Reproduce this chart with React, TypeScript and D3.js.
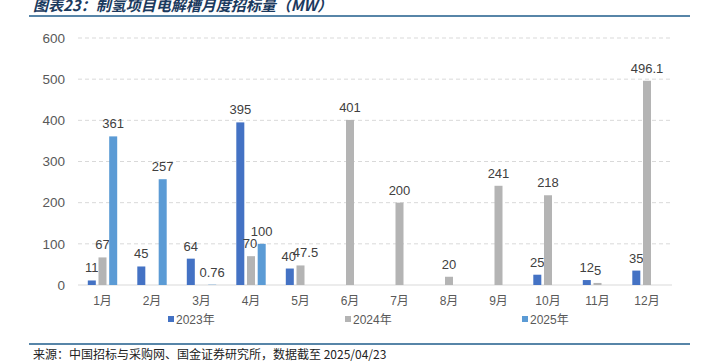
import React from "react";
import * as d3 from "d3";

const categories = ["1月", "2月", "3月", "4月", "5月", "6月", "7月", "8月", "9月", "10月", "11月", "12月"];
const seriesNames = ["2023年", "2024年", "2025年"];
const values2023: (number | null)[] = [11, 45, 64, 395, 40, null, null, null, null, 25, 12, 35];
const values2024: (number | null)[] = [67, null, null, 70, 47.5, 401, 200, 20, 241, 218, 5, 496.1];
const values2025: (number | null)[] = [361, 257, 0.76, 100, null, null, null, null, null, null, null, null];
const yTicks = [0, 100, 200, 300, 400, 500, 600];
const colors = ["#4472C4", "#B4B4B4", "#5B9BD5"];

const W = 709;
const H = 362;

// small label nudges (series index, category index) -> [dx, dy]
const labelNudge: Record<string, [number, number]> = {
  "1-4": [5, 0],
  "0-4": [-1, 0],
  "1-3": [-1, 0],
};

export default function App() {
  const allSeries = [values2023, values2024, values2025];
  const x0 = d3.scaleBand<string>().domain(categories).range([77.75, 671.75]).padding(0);
  const groupW = 29.4;
  const x1 = d3
    .scaleBand<string>()
    .domain(seriesNames)
    .range([(x0.bandwidth() - groupW) / 2, (x0.bandwidth() + groupW) / 2])
    .paddingInner(0.25)
    .paddingOuter(0);
  const y = d3.scaleLinear().domain([0, 600]).range([285, 38]);
  const fmt = (v: number) => String(v);
  const legendX = [168, 345, 522];
  const numFont = "'Liberation Sans', Arial, sans-serif";

  return (
    <svg width={W} height={H} style={{ position: "absolute", left: 0, top: 0, background: "#fff" }}
      fontFamily={numFont}>
      <text x={33} y={11} fontSize={15} fontStyle="italic" fontWeight="bold" fill="#1b3a5e"
        fontFamily="'Noto Sans CJK SC', sans-serif">图表23：制氢项目电解槽月度招标量（MW）</text>
      <line x1={29} x2={690} y1={16} y2={16} stroke="#1f5c8b" strokeWidth={1.6} />

      {yTicks.map((t) => (
        <g key={t}>
          {t > 0 && (
            <line x1={78} x2={672} y1={y(t)} y2={y(t)} stroke="#d9d9d9" strokeDasharray="4,3" strokeWidth={1} />
          )}
          <text x={65} y={y(t)} dy="0.35em" textAnchor="end" fontSize={13.5} fill="#595959">{t}</text>
        </g>
      ))}
      <line x1={78} x2={672} y1={y(0)} y2={y(0)} stroke="#d9d9d9" strokeWidth={1} />

      {categories.map((c, ci) => (
        <g key={c} transform={`translate(${x0(c)},0)`}>
          {allSeries.map((s, si) => {
            const v = s[ci];
            if (v === null) return null;
            const bx = x1(seriesNames[si])!;
            const bw = x1.bandwidth();
            const nd = labelNudge[`${si}-${ci}`] || [0, 0];
            return (
              <g key={si}>
                <rect x={bx} y={y(v)} width={bw} height={y(0) - y(v)} fill={colors[si]} />
                <text x={bx + bw / 2 + nd[0]} y={y(v) - 8 + nd[1]} textAnchor="middle" fontSize={13} fill="#404040">{fmt(v)}</text>
              </g>
            );
          })}
          <text x={x0.bandwidth() / 2} y={305} textAnchor="middle" fontSize={12} fill="#595959"
            fontFamily="'Liberation Sans', 'Noto Sans CJK SC', sans-serif">{c}</text>
        </g>
      ))}

      {seriesNames.map((n, i) => (
        <g key={n} transform={`translate(${legendX[i]},0)`}>
          <rect x={0} y={316} width={6} height={6} fill={colors[i]} />
          <text x={8} y={323.5} fontSize={12} fill="#595959" fontFamily="'Liberation Sans', 'Noto Sans CJK SC', sans-serif">{n}</text>
        </g>
      ))}

      <line x1={29} x2={690} y1={344} y2={344} stroke="#1f5c8b" strokeWidth={1.6} />
      <text x={33} y={359} fontSize={12} fill="#222" fontFamily="'Noto Sans CJK SC', serif">来源：中国招标与采购网、国金证券研究所，数据截至 2025/04/23</text>
    </svg>
  );
}
